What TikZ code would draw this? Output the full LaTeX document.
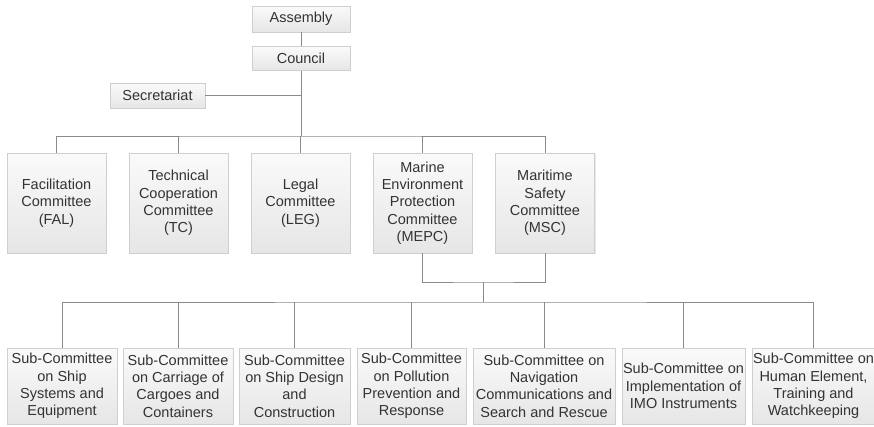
\documentclass[tikz,border=0pt]{standalone}
\usepackage{fontspec}
\setmainfont{Liberation Sans}
\usetikzlibrary{positioning,shadows}
\definecolor{ImoLine}{HTML}{8A8A8A}
\definecolor{ImoBorder}{HTML}{CFCFCF}
\definecolor{ImoTop}{HTML}{FAFAFA}
\definecolor{ImoBottom}{HTML}{E6E6E6}
\definecolor{ImoText}{HTML}{333333}

\begin{document}
\begin{tikzpicture}[x=1pt,y=-1pt,
    unit/.style={draw=ImoBorder,top color=ImoTop,bottom color=ImoBottom,
      drop shadow={opacity=0.18,shadow xshift=1pt,shadow yshift=-1pt},
      align=center,inner sep=1pt,text=ImoText,
      font=\fontsize{14.5}{17.3}\selectfont},
    link/.style={ImoLine,line width=1pt}]
    \useasboundingbox (0,0) rectangle (874,426);
    % governing bodies
    \node[unit,minimum width=98pt,minimum height=26pt] (asm) at (301,19) {Assembly};
    \node[unit,minimum width=98pt,minimum height=24pt,below=14pt of asm] (cou) {Council};
    \node[unit,minimum width=95pt,minimum height=25pt] (sec) at (157.5,95.5) {Secretariat};
    % committees
    \node[unit,minimum width=99pt,minimum height=100pt] (fal) at (56.5,203)
      {Facilitation\\Committee\\(FAL)};
    \node[unit,minimum width=99pt,minimum height=100pt] (tc) at (178.5,203)
      {Technical\\Cooperation\\Committee\\(TC)};
    \node[unit,minimum width=99pt,minimum height=100pt] (leg) at (300.5,203)
      {Legal\\Committee\\(LEG)};
    \node[unit,minimum width=99pt,minimum height=100pt] (mepc) at (422.5,203)
      {Marine\\Environment\\Protection\\Committee\\(MEPC)};
    \node[unit,minimum width=99pt,minimum height=100pt] (msc) at (545,203)
      {Maritime\\Safety\\Committee\\(MSC)};
    % sub-committees
    \node[unit,minimum width=110pt,minimum height=76pt] (sub1) at (62,386)
      {Sub-Committee\\on Ship\\Systems and\\Equipment};
    \node[unit,minimum width=110pt,minimum height=76pt] (sub2) at (178,386)
      {Sub-Committee\\on Carriage of\\Cargoes and\\Containers};
    \node[unit,minimum width=111pt,minimum height=76pt] (sub3) at (294.5,386)
      {Sub-Committee\\on Ship Design\\and\\Construction};
    \node[unit,minimum width=109pt,minimum height=76pt] (sub4) at (411.5,386)
      {Sub-Committee\\on Pollution\\Prevention and\\Response};
    \node[unit,minimum width=142pt,minimum height=76pt] (sub5) at (544,386)
      {Sub-Committee on\\Navigation\\Communications and\\Search and Rescue};
    \node[unit,minimum width=123pt,minimum height=76pt] (sub6) at (683.5,386)
      {Sub-Committee on\\Implementation of\\IMO Instruments};
    \node[unit,minimum width=123pt,minimum height=76pt] (sub7) at (813.5,386)
      {Sub-Committee on\\Human Element,\\Training and\\Watchkeeping};
    % connectors
    \coordinate (top) at (300,136);
    \coordinate (join) at (483,282);
    \coordinate (low) at (483,302);
    \draw[link] (asm) -- (cou);
    \draw[link] (cou.south) -- (cou.south |- top);
    \draw[link] (sec.east) -- (sec.east -| cou.south);
    \draw[link] (fal.north) |- (top) -| (msc.north);
    \foreach \n in {tc,leg,mepc}
      \draw[link] (\n.north) -- (\n.north |- top);
    \draw[link] (mepc.south) |- (join) -| (msc.south);
    \draw[link] (join) -- (low);
    \draw[link] (sub1.north) |- (low) -| (sub7.north);
    \foreach \n in {sub2,sub3,sub4,sub5,sub6}
      \draw[link] (\n.north) -- (\n.north |- low);
  \end{tikzpicture}
\end{document}
